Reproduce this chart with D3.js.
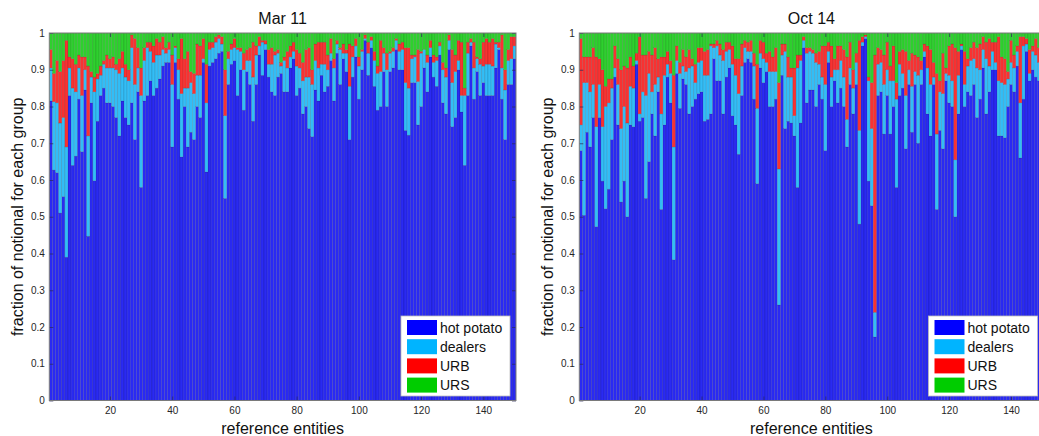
<!DOCTYPE html>
<html>
<head>
<meta charset="utf-8">
<script src="https://cdn.jsdelivr.net/npm/d3@7"></script>
<style>
    body { margin: 0; background: #fff; }
    text { font-family: "Liberation Sans", Arial, Helvetica, sans-serif; }
</style>
</head>
<body>
<div id="chart"></div>
<script>
// entities 1..150, values are the cumulative top of each group
var entities = d3.range(1, 151);
var groups = ["hot potato", "dealers", "URB", "URS"];
var barColors = ["#2a2af2", "#33bdf6", "#f83232", "#2ed02e"];
var legendColors = ["#0000ff", "#00b4ff", "#ff0000", "#00cc00"];
var yTicks = [0, 0.1, 0.2, 0.3, 0.4, 0.5, 0.6, 0.7, 0.8, 0.9, 1];
var xTicks = [20, 40, 60, 80, 100, 120, 140];

// Mar 11
var marHot = [
    .815,.627,.62,.51,.555,.39,.83,.64,.665,.82,
    .677,.845,.447,.81,.598,.76,.83,.85,.81,.81,
    .80,.77,.72,.815,.77,.75,.81,.71,.84,.58,
    .815,.83,.87,.83,.85,.875,.91,.92,.92,.69,
    .92,.82,.663,.80,.69,.73,.71,.80,.77,.92,
    .622,.91,.92,.93,.945,.95,.55,.86,.915,.925,
    .83,.90,.79,.895,.86,.76,.86,.94,.885,.955,
    .88,.84,.83,.88,.89,.84,.84,.905,.93,.83,
    .85,.78,.80,.74,.718,.845,.815,.885,.84,.855,
    .925,.815,.945,.86,.93,.895,.71,.88,.935,.82,
    .90,.98,.885,.96,.855,.79,.80,.895,.80,.895,
    .905,.955,.90,.90,.735,.722,.865,.865,.75,.80,
    .905,.84,.935,.88,.855,.94,.81,.78,.955,.745,
    .77,.90,.785,.64,.83,.965,.82,.895,.83,.865,
    .83,.83,.83,.905,.955,.82,.71,.86,.86,.93
];
var marDealers = [
    .905,.813,.81,.755,.77,.69,.905,.85,.84,.905,
    .83,.90,.72,.88,.84,.875,.885,.915,.905,.905,
    .905,.90,.89,.905,.88,.87,.96,.86,.905,.83,
    .925,.96,.95,.92,.94,.94,.955,.945,.955,.86,
    .96,.90,.835,.85,.85,.865,.835,.885,.885,.93,
    .81,.955,.96,.975,.985,.97,.775,.93,.955,.96,
    .955,.95,.90,.925,.925,.88,.94,.965,.975,.97,
    .915,.915,.94,.945,.91,.925,.905,.935,.95,.91,
    .905,.87,.88,.88,.86,.925,.905,.915,.915,.90,
    .945,.905,.97,.955,.945,.945,.855,.935,.965,.91,
    .95,.985,.945,.98,.925,.89,.895,.945,.90,.945,
    .95,.98,.95,.955,.865,.85,.93,.935,.868,.945,
    .955,.92,.96,.92,.925,.965,.90,.88,.98,.865,
    .895,.925,.83,.83,.945,.975,.905,.93,.915,.91,
    .915,.915,.91,.97,.96,.905,.845,.925,.93,.965
];
var marUrb = [
    .955,.89,.925,.895,.925,.98,.935,.93,.915,.94,
    .935,.935,.91,.895,.88,.89,.91,.925,.94,.93,
    .935,.915,.93,.95,.915,.90,.995,.985,.96,.905,
    .96,.975,.975,.965,.985,.975,.99,.96,.975,.94,
    .965,.93,.985,.93,.95,.895,.89,.97,.965,.985,
    .915,.975,.975,.99,.995,.99,.90,.95,.97,.985,
    .96,.96,.945,.955,.96,.975,.965,.99,.98,.98,
    .955,.96,.95,.955,.92,.935,.95,.965,.975,.955,
    .945,.92,.955,.96,.90,.97,.975,.975,.975,.94,
    .985,.93,.98,.96,.97,.955,.97,.965,.985,.935,
    .955,.995,.975,.99,.95,.91,.98,.96,.945,.95,
    .96,.985,.97,.975,.96,.96,.94,.94,.955,.95,
    .955,.94,.98,.94,.935,.975,.92,.905,.995,.955,
    .94,.98,.975,.85,.975,.985,.975,.935,.93,.975,
    .985,.975,.985,.975,.975,.995,.90,.955,.99,.99
];

// Oct 14
var octHot = [
    .68,.504,.73,.69,.77,.473,.77,.597,.522,.575,
    .71,.88,.75,.54,.597,.50,.75,.745,.915,.76,
    .77,.55,.65,.78,.72,.84,.52,.75,.88,.81,
    .383,.89,.795,.875,.86,.78,.80,.82,.835,.84,
    .76,.765,.78,.93,.87,.87,.78,.88,.905,.775,
    .75,.67,.83,.92,.93,.92,.82,.59,.905,.865,
    .895,.80,.80,.82,.26,.885,.74,.76,.755,.72,
    .58,.755,.96,.81,.845,.845,.80,.86,.82,.68,
    .92,.80,.87,.81,.85,.80,.69,.86,.78,.86,
    .48,.965,.985,.597,.53,.173,.83,.84,.725,.83,
    .725,.80,.58,.83,.85,.685,.86,.73,.86,.70,
    .86,.935,.78,.72,.86,.52,.735,.685,.87,.81,
    .80,.50,.78,.955,.80,.84,.83,.86,.77,.82,
    .905,.78,.84,.90,.90,.72,.72,.715,.80,.86,
    .84,.91,.66,.82,.95,.87,.90,.88,.87,.90
];
var octDealers = [
    .75,.865,.865,.84,.86,.745,.86,.745,.80,.81,
    .85,.905,.86,.74,.80,.755,.855,.85,.925,.78,
    .84,.83,.89,.84,.86,.88,.78,.885,.915,.89,
    .69,.925,.89,.91,.895,.905,.91,.865,.92,.925,
    .885,.885,.965,.96,.965,.94,.925,.95,.955,.915,
    .885,.835,.91,.96,.95,.95,.91,.795,.945,.93,
    .92,.895,.895,.895,.63,.94,.95,.88,.88,.775,
    .905,.925,.98,.945,.95,.945,.92,.915,.88,.86,
    .95,.88,.90,.90,.925,.88,.765,.905,.85,.92,
    .735,.975,.99,.87,.74,.24,.915,.92,.86,.90,
    .87,.87,.82,.915,.89,.83,.90,.855,.895,.885,
    .90,.95,.905,.86,.88,.725,.84,.835,.89,.885,
    .87,.655,.885,.965,.86,.91,.925,.93,.905,.90,
    .955,.93,.91,.95,.92,.87,.865,.86,.875,.92,
    .905,.95,.81,.965,.97,.89,.95,.94,.92,.93
];
var octUrb = [
    .985,.935,.935,.935,.96,.935,.93,.90,.855,.875,
    .875,.965,.93,.90,.91,.905,.935,.91,.945,.99,
    .94,.94,.95,.94,.96,.93,.935,.935,.95,.925,
    .885,.965,.92,.955,.935,.955,.93,.915,.96,.96,
    .95,.955,.97,.97,.98,.97,.955,.975,.975,.965,
    .93,.93,.97,.98,.975,.98,.945,.915,.98,.975,
    .945,.95,.935,.96,.865,.97,.97,.935,.905,.905,
    .94,.94,.99,.96,.96,.955,.945,.95,.965,.965,
    .975,.965,.93,.965,.965,.955,.935,.975,.90,.945,
    .98,.99,.995,.88,.865,.94,.96,.955,.94,.975,
    .91,.965,.865,.95,.955,.95,.925,.945,.94,.935,
    .925,.97,.965,.955,.92,.89,.87,.945,.905,.965,
    .97,.96,.95,.97,.95,.93,.96,.975,.96,.97,
    .99,.975,.985,.975,.975,.99,.935,.93,.895,.98,
    .94,.965,.99,.99,.985,.955,.965,.985,.96,.97
];

var width = 1039;
var height = 436;

var svg = d3.select("#chart")
    .append("svg")
    .attr("width", width)
    .attr("height", height)
    .style("display", "block");

function drawPanel(id, title, hot, dealers, urb, left, right) {
    var top = 33, bottom = 400.5;

    var xScale = d3.scaleLinear().domain([0.5, 150.5]).range([left, right]);
    var yScale = d3.scaleLinear().domain([0, 1]).range([bottom, top]);

    var rows = entities.map(function (e, i) {
        return { e: e, tops: [hot[i], dealers[i], urb[i], 1] };
    });

    svg.append("clipPath")
        .attr("id", "clip-" + id)
        .append("rect")
        .attr("x", left).attr("y", top)
        .attr("width", right - left).attr("height", bottom - top);

    var g = svg.append("g").attr("clip-path", "url(#clip-" + id + ")");

    groups.forEach(function (name, k) {
        g.selectAll(".seg-" + k)
            .data(rows)
            .join("rect")
            .attr("class", "seg-" + k)
            .attr("x", function (d) { return xScale(d.e - 0.5); })
            .attr("width", function (d) { return xScale(d.e + 0.5) - xScale(d.e - 0.5); })
            .attr("y", function (d) { return yScale(d.tops[k]); })
            .attr("height", function (d) {
                var base = k === 0 ? 0 : d.tops[k - 1];
                return Math.max(0, yScale(base) - yScale(d.tops[k]));
            })
            .style("fill", barColors[k])
            .style("stroke", "rgba(0,0,0,0.18)")
            .style("stroke-width", 0.6);
    });

    // ticks point inward on all four sides
    var yAxis = svg.append("g")
        .attr("transform", "translate(" + left + ",0)")
        .call(d3.axisLeft(yScale).tickValues(yTicks).tickSize(-4).tickPadding(4.5)
            .tickFormat(function (v) { return String(v); }));
    var xAxis = svg.append("g")
        .attr("transform", "translate(0," + bottom + ")")
        .call(d3.axisBottom(xScale).tickValues(xTicks).tickSize(-4).tickPadding(6));
    var rAxis = svg.append("g")
        .attr("transform", "translate(" + right + ",0)")
        .call(d3.axisRight(yScale).tickValues(yTicks).tickSize(-4).tickFormat(""));
    var tAxis = svg.append("g")
        .attr("transform", "translate(0," + top + ")")
        .call(d3.axisTop(xScale).tickValues(xTicks).tickSize(-4).tickFormat(""));

    [yAxis, xAxis, rAxis, tAxis].forEach(function (a) {
        a.select(".domain").remove();
        a.selectAll("line").attr("stroke", "#2a2a5a").attr("stroke-opacity", 0.7);
        a.selectAll("text")
            .attr("font-size", "10px")
            .attr("fill", "#262626")
            .style("font-family", "'Liberation Sans', Arial, sans-serif");
    });

    svg.append("rect")
        .attr("x", left).attr("y", top)
        .attr("width", right - left).attr("height", bottom - top)
        .attr("fill", "none")
        .attr("stroke", "#7a7a7a")
        .attr("stroke-width", 1);

    svg.append("text")
        .attr("x", (left + right) / 2)
        .attr("y", 24)
        .attr("text-anchor", "middle")
        .attr("font-size", "16px")
        .attr("fill", "#111")
        .text(title);

    svg.append("text")
        .attr("x", (left + right) / 2)
        .attr("y", 434)
        .attr("text-anchor", "middle")
        .attr("font-size", "16px")
        .attr("fill", "#111")
        .text("reference entities");

    svg.append("text")
        .attr("transform", "translate(" + (left - 26.5) + "," + ((top + bottom) / 2) + ") rotate(-90)")
        .attr("text-anchor", "middle")
        .attr("font-size", "16px")
        .attr("fill", "#111")
        .text("fraction of notional for each group");

    // legend
    var lx = right - 115, ly = 316;
    var legend = svg.append("g").attr("transform", "translate(" + lx + "," + ly + ")");
    legend.append("rect")
        .attr("width", 109).attr("height", 80)
        .attr("fill", "#fff")
        .attr("stroke", "#bdbdbd")
        .attr("stroke-width", 0.8);

    var items = legend.selectAll(".item")
        .data(groups)
        .join("g")
        .attr("class", "item")
        .attr("transform", function (d, i) { return "translate(6," + (4 + i * 19.2) + ")"; });
    items.append("rect")
        .attr("width", 30).attr("height", 15)
        .attr("fill", function (d, i) { return legendColors[i]; });
    items.append("text")
        .attr("x", 33)
        .attr("y", 12.5)
        .attr("font-size", "14px")
        .attr("fill", "#111")
        .text(function (d) { return d; });
}

drawPanel("mar", "Mar 11", marHot, marDealers, marUrb, 49.3, 516);
drawPanel("oct", "Oct 14", octHot, octDealers, octUrb, 579.3, 1043.5);
</script>
</body>
</html>
